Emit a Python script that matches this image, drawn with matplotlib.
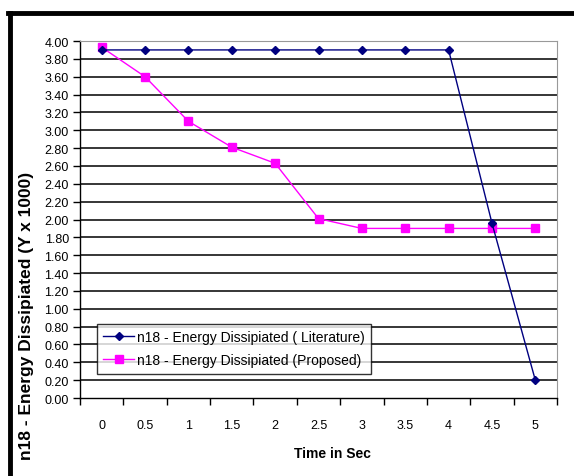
import matplotlib
matplotlib.use("Agg")
import matplotlib.pyplot as plt
from matplotlib.lines import Line2D
import numpy as np

times = ["0", "0.5", "1", "1.5", "2", "2.5", "3", "3.5", "4", "4.5", "5"]
literature = [3.90, 3.90, 3.90, 3.90, 3.90, 3.90, 3.90, 3.90, 3.90, 1.96, 0.20]
proposed = [3.93, 3.60, 3.10, 2.81, 2.63, 2.01, 1.90, 1.90, 1.90, 1.90, 1.90]

plt.rcParams["font.family"] = ["Liberation Sans", "DejaVu Sans"]

W, H = 574, 477
fig = plt.figure(figsize=(W / 100, H / 100), dpi=100)
ax = fig.add_axes([80 / W, 1 - 399 / H, 477 / W, 357 / H])

x = np.arange(len(times))
ax.plot(x, literature, color="#000080", lw=1.0, marker="D", ms=4,
        mfc="#000080", mec="#000080", label="n18 - Energy Dissipiated ( Literature)", zorder=4)
ax.plot(x, proposed, color="#FF00FF", lw=1.0, marker="s", ms=5.5,
        mfc="#FF00FF", mec="#FF00FF", label="n18 - Energy Dissipiated (Proposed)", zorder=3)

ax.set_xlim(-0.5, len(times) - 0.5)
ax.set_ylim(0, 4.0)
yt = np.arange(0, 4.01, 0.2)
ax.set_yticks(yt)
ax.set_yticklabels([f"{v:.2f}" for v in yt], fontsize=9)
ax.set_xticks(x)
ax.set_xticklabels(times, fontsize=9)
ax.set_xticks(np.arange(-0.5, len(times), 1.0), minor=True)
ax.tick_params(axis="x", which="major", length=0, pad=15)
ax.tick_params(axis="x", which="minor", length=5, width=1, direction="out")
ax.tick_params(axis="y", length=5, width=1, direction="out", pad=3)

for v in np.arange(0.2, 3.9, 0.2):
    ax.axhline(v, color="black", lw=1.1, zorder=1)

for s in ["top", "right"]:
    ax.spines[s].set_color("#999999")
for s in ["left", "bottom"]:
    ax.spines[s].set_color("black")
    ax.spines[s].set_linewidth(1.0)

ax.set_xlabel("Time in Sec", fontsize=10, fontweight="bold")
ax.xaxis.set_label_coords((332 - 80) / 477, -(447 - 399) / 357)

leg = ax.legend(loc="upper left", bbox_to_anchor=(17 / 477, 74 / 357), frameon=True,
                fancybox=False, edgecolor="black", fontsize=10, handlelength=2.2,
                handletextpad=0.2, borderpad=0.45, labelspacing=0.65, borderaxespad=0)
leg.get_frame().set_linewidth(1.0)

fig.text(27 / W, 1 - 316 / H, "n18 - Energy Dissipiated (Y x 1000)", rotation=90,
         ha="center", va="center", fontsize=12.5, fontweight="bold")

fig.add_artist(Line2D([10 / W, 10 / W], [0, 1 - 14 / H], color="black", lw=3.5,
                      transform=fig.transFigure))
fig.add_artist(Line2D([8.3 / W, 1], [1 - 14 / H, 1 - 14 / H], color="black", lw=3.5,
                      transform=fig.transFigure))

fig.savefig("out.png", dpi=100)
